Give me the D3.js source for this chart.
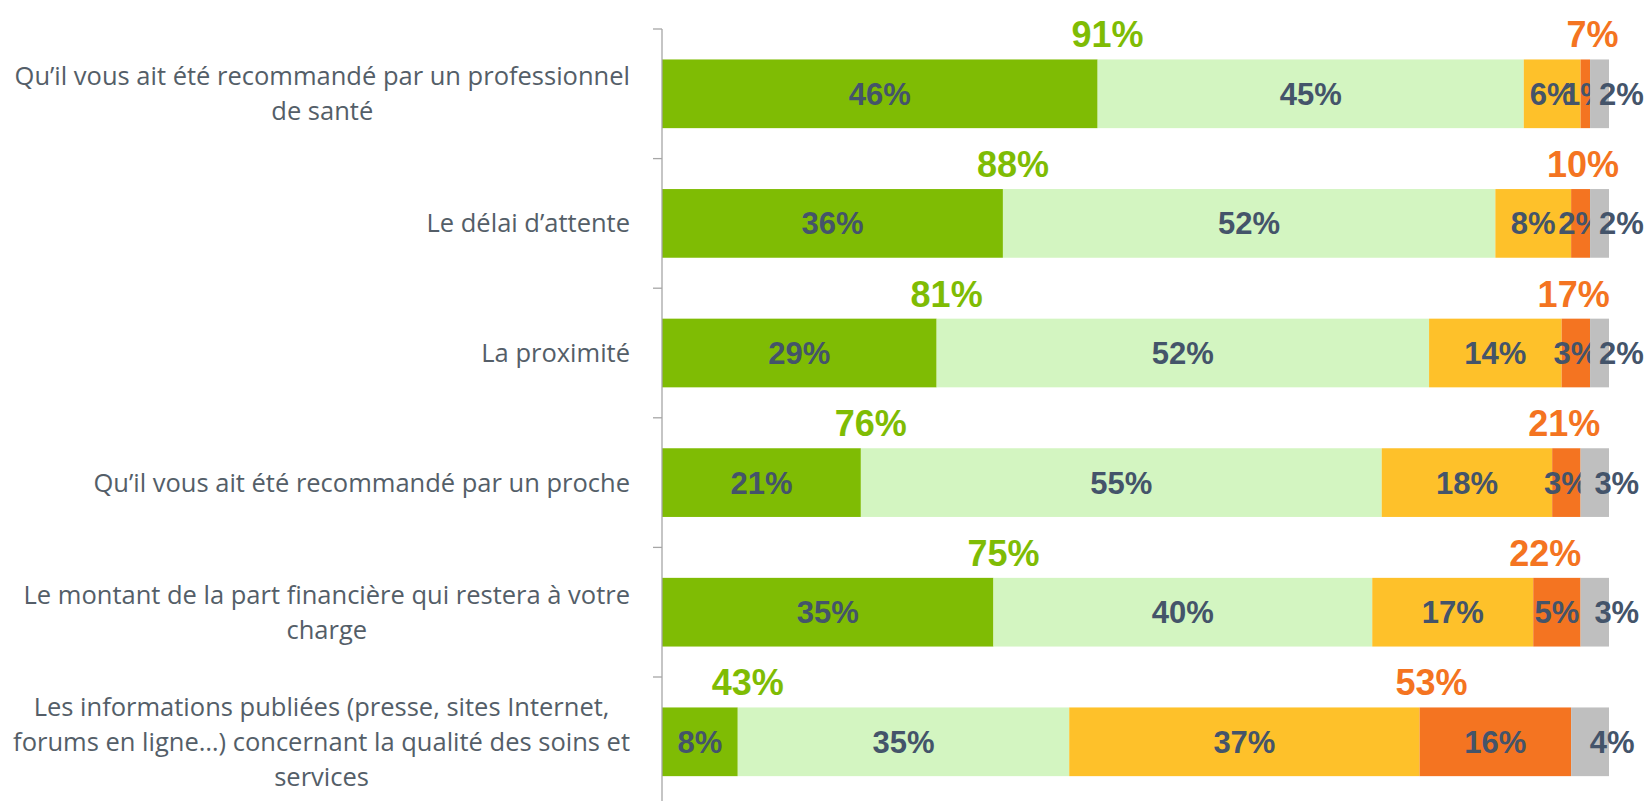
<!DOCTYPE html>
<html>
<head>
<meta charset="utf-8">
<script src="https://cdn.jsdelivr.net/npm/d3@7"></script>
<style>
  html, body { margin: 0; padding: 0; background: #fff; }
</style>
</head>
<body>
<svg id="importanceChart" width="1650" height="801"></svg>
<script>
// DATA
let categories = [
  ["Qu’il vous ait été recommandé par un professionnel", "de santé"],
  ["Le délai d’attente"],
  ["La proximité"],
  ["Qu’il vous ait été recommandé par un proche"],
  ["Le montant de la part financière qui restera à votre", "charge"],
  ["Les informations publiées (presse, sites Internet,", "forums en ligne…) concernant la qualité des soins et", "services"]
];
let keys = ["veryImportant", "fairlyImportant", "notVeryImportant", "notImportantAtAll", "dontKnow"];
let veryImportant = [46, 36, 29, 21, 35, 8];
let fairlyImportant = [45, 52, 52, 55, 40, 35];
let notVeryImportant = [6, 8, 14, 18, 17, 37];
let notImportantAtAll = [1, 2, 3, 3, 5, 16];
let dontKnow = [2, 2, 2, 3, 3, 4];
let totalImportant = [91, 88, 81, 76, 75, 43];
let totalNotImportant = [7, 10, 17, 21, 22, 53];
let colors = ["#7fbc04", "#d3f5c1", "#fec12a", "#f47421", "#bfbfbf"];

let series = [veryImportant, fairlyImportant, notVeryImportant, notImportantAtAll, dontKnow];
let data = categories.map(function (c, i) {
  let row = {cat: i, lines: c};
  keys.forEach(function (k, j) { row[k] = series[j][i]; });
  return row;
});

let svg = d3.select("#importanceChart"),
    margin = {top: 29, left: 662},
    axisRight = 1609;

let x = d3.scaleLinear().domain([0, 100]).range([margin.left, axisRight]);
let y = d3.scaleBand()
  .domain(data.map(function (d) { return d.cat; }))
  .range([margin.top, margin.top + 6 * 129.6])
  .paddingInner(0.47)
  .paddingOuter(0.235);
let z = d3.scaleOrdinal().domain(keys).range(colors);

let stacked = d3.stack().keys(keys)(data);

// BARS
let layers = svg.append("g")
  .selectAll("g")
  .data(stacked)
  .enter().append("g")
  .attr("fill", function (d) { return z(d.key); });

layers.selectAll("rect")
  .data(function (d) { return d.map(function (p) { p.key = d.key; return p; }); })
  .enter().append("rect")
  .attr("x", function (d) { return x(d[0]); })
  .attr("y", function (d) { return y(d.data.cat); })
  .attr("width", function (d) { return x(d[1]) - x(d[0]); })
  .attr("height", y.bandwidth());

// SEGMENT LABELS
layers.selectAll("text")
  .data(function (d) { return d; })
  .enter().append("text")
  .attr("x", function (d) {
    let cx = (x(d[0]) + x(d[1])) / 2;
    return d.key === "dontKnow" ? cx + 22 : cx;
  })
  .attr("y", function (d) { return y(d.data.cat) + y.bandwidth() / 2 + 11; })
  .attr("text-anchor", "middle")
  .style("font-family", "'Liberation Sans', Arial, sans-serif")
  .style("font-weight", "bold")
  .style("font-size", "31px")
  .style("fill", "#44546a")
  .text(function (d) { return (d[1] - d[0]) + "%"; });

// TOTALS
let totals = svg.append("g")
  .style("font-family", "'Liberation Sans', Arial, sans-serif")
  .style("font-weight", "bold")
  .style("font-size", "36px")
  .attr("text-anchor", "middle");

totals.selectAll("text.pos")
  .data(data)
  .enter().append("text")
  .attr("class", "pos")
  .attr("x", function (d) { return x(d.veryImportant) + 10; })
  .attr("y", function (d) { return y(d.cat) - 12; })
  .style("fill", "#7fbc04")
  .text(function (d, i) { return totalImportant[i] + "%"; });

totals.selectAll("text.neg")
  .data(data)
  .enter().append("text")
  .attr("class", "neg")
  .attr("x", function (d) { return x(d.veryImportant + d.fairlyImportant + d.notVeryImportant) + 12; })
  .attr("y", function (d) { return y(d.cat) - 12; })
  .style("fill", "#f47421")
  .text(function (d, i) { return totalNotImportant[i] + "%"; });

// AXIS
let step = y.step();
let axis = svg.append("g").attr("stroke", "#a6a6a6").attr("stroke-width", 1.3);
axis.append("line")
  .attr("x1", margin.left).attr("x2", margin.left)
  .attr("y1", margin.top).attr("y2", 801);
axis.selectAll("line.tick")
  .data(data)
  .enter().append("line")
  .attr("class", "tick")
  .attr("x1", margin.left - 9).attr("x2", margin.left)
  .attr("y1", function (d) { return y(d.cat) - (step - y.bandwidth()) / 2; })
  .attr("y2", function (d) { return y(d.cat) - (step - y.bandwidth()) / 2; });

// CATEGORY LABELS (block right aligned, lines centered in block)
let labelRight = 630, lineHeight = 35;
let labels = svg.append("g")
  .style("font-family", "'Open Sans', sans-serif")
  .style("font-size", "25.5px")
  .style("fill", "#545e68");

data.forEach(function (d) {
  let g = labels.append("g");
  let n = d.lines.length;
  let cy = y(d.cat) + y.bandwidth() / 2;
  let texts = g.selectAll("text")
    .data(d.lines)
    .enter().append("text")
    .attr("y", function (l, i) { return cy + (i - (n - 1) / 2) * lineHeight; })
    .attr("dy", "0.35em")
    .attr("text-anchor", "middle")
    .text(function (l) { return l; });
  let maxW = d3.max(texts.nodes(), function (t) { return t.getComputedTextLength(); });
  texts.attr("x", labelRight - maxW / 2);
});
</script>
</body>
</html>
